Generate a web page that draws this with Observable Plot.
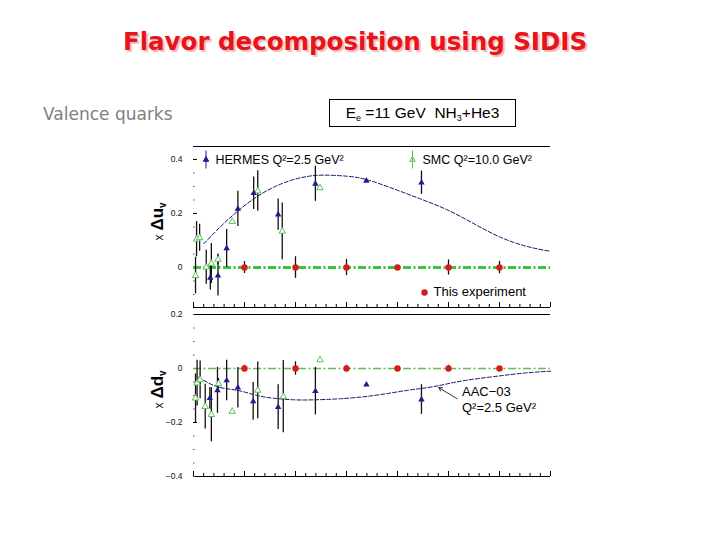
<!DOCTYPE html>
<html><head><meta charset="utf-8">
<script src="https://cdn.jsdelivr.net/npm/d3@7"></script>
<script src="https://cdn.jsdelivr.net/npm/@observablehq/plot@0.6"></script>
<style>
body{margin:0;background:#fff;width:720px;height:540px;position:relative;overflow:hidden;font-family:"Liberation Sans",Arial,sans-serif}
#title{position:absolute;left:0;width:710px;top:27px;line-height:30px;text-align:center;font-weight:bold;font-size:24.5px;font-family:"DejaVu Sans",sans-serif;color:#e8141c;text-shadow:2px 2px 1px rgba(235,140,140,0.6)}
#sub{position:absolute;left:43px;top:104px;line-height:20px;font-size:17px;font-family:"DejaVu Sans",sans-serif;color:#808080}
#box{position:absolute;left:329px;top:99px;width:185px;height:26px;border:1px solid #000;font-size:15.5px;text-align:center;line-height:26px;color:#000}
#box sub{font-size:9px;vertical-align:-3px;line-height:0}
.panel{position:absolute;left:0}
</style></head><body>
<div id="title">Flavor decomposition using SIDIS</div>
<div id="sub">Valence quarks</div>
<div id="box">E<sub>e</sub> =11 GeV&nbsp; NH<sub>3</sub>+He3</div>
<div id="top" class="panel" style="top:136px"></div>
<div id="bot" class="panel" style="top:310px"></div>
<script>
// ---------- x Δu_v panel ----------
const hermesUx = [0.033, 0.048, 0.065, 0.087, 0.118, 0.166, 0.239, 0.339, 0.447];
const hermesUy = [-0.038, -0.03, 0.071, 0.217, 0.275, 0.196, 0.31, 0.321, 0.314];
const hermesUe = [0.045, 0.075, 0.07, 0.065, 0.06, 0.058, 0.065, 0.005, 0.043];

const smcUx = [0.004, 0.006, 0.012, 0.025, 0.035, 0.048, 0.076, 0.126, 0.174, 0.248];
const smcUy = [-0.03, 0.105, 0.11, 0.001, 0.015, 0.03, 0.17, 0.283, 0.134, 0.295];
const smcUe = [0.068, 0.065, 0.05, 0.063, 0.074, 0.02, 0.008, 0.075, 0.105, 0.008];

const oursX = [0.1, 0.2, 0.3, 0.4, 0.5, 0.6];
const oursUy = [0, 0, 0, 0, 0, 0];
const oursUe = [0.022, 0.04, 0.03, 0.005, 0.028, 0.023];

const aacUx = [0.020,0.059,0.092,0.125,0.157,0.190,0.223,0.256,0.301,0.340,0.393,0.445,0.497,0.550,0.602,0.654,0.700];
const aacUy = [0.088,0.162,0.217,0.263,0.297,0.322,0.337,0.342,0.338,0.325,0.291,0.254,0.214,0.162,0.112,0.078,0.060];

// ---------- x Δd_v panel ----------
const hermesDx = [0.032, 0.047, 0.065, 0.087, 0.117, 0.166, 0.239, 0.339, 0.447];
const hermesDy = [-0.11, -0.081, -0.044, -0.071, -0.122, -0.143, -0.084, -0.06, -0.115];
const hermesDe = [0.04, 0.085, 0.075, 0.075, 0.07, 0.083, 0.088, 0.005, 0.055];

const smcDx = [0.004, 0.007, 0.013, 0.023, 0.035, 0.049, 0.076, 0.126, 0.176, 0.248];
const smcDy = [-0.11, -0.054, -0.042, -0.141, -0.171, -0.057, -0.159, -0.081, -0.104, 0.032];
const smcDe = [0.09, 0.085, 0.07, 0.083, 0.1, 0.02, 0.008, 0.105, 0.134, 0.008];

const oursDy = [0, 0, 0, 0, 0, 0];
const oursDe = [0.012, 0.025, 0.012, 0.005, 0.012, 0.005];

const aacDx = [0.010,0.046,0.086,0.125,0.157,0.197,0.236,0.288,0.354,0.419,0.471,0.524,0.589,0.648,0.700];
const aacDy = [-0.032,-0.067,-0.081,-0.100,-0.110,-0.116,-0.116,-0.112,-0.100,-0.081,-0.067,-0.047,-0.030,-0.017,-0.010];

// ---------- axes ----------
const xDomain = [0, 0.7];
const xTickValues = d3.range(0, 36).map(i => +(i * 0.02).toFixed(2));
const uDomain = [-0.148, 0.448];
const dDomain = [-0.4, 0.2];
const uTickLabels = [0, 0.2, 0.4];
const dTickLabels = [-0.4, -0.2, 0, 0.2];
const uMinor = d3.range(-2, 9).map(i => +(i * 0.05).toFixed(2));
const dMinor = d3.range(-8, 5).map(i => +(i * 0.05).toFixed(2));

// annotation texts
const hermesLabel = "HERMES Q²=2.5 GeV²";
const smcLabel = "SMC Q²=10.0 GeV²";
const oursLabel = "This experiment";
const aacLabel1 = "AAC−03";
const aacLabel2 = "Q²=2.5 GeV²";
const aacArrow = [{x1: 0.517, y1: -0.112, x2: 0.481, y2: -0.071}];

const rows = (xs, ys, es) => xs.map((x, i) => ({x, y: ys[i], e: es ? es[i] : 0}));

const C = {hermes: "#1e1e8e", smc: "#5cbf5c", ours: "#d41c1c", aac: "#161668", bar: "#111"};
const fmt = d => d === 0 ? "0" : d.toFixed(1).replace("-", "−");

// legend symbol: triangle with an error bar
const barTriangle = {
  draw(ctx, size) {
    const r = Math.sqrt(size / Math.PI);
    const s = r * 1.25;
    ctx.moveTo(0, -s); ctx.lineTo(s * 0.9, s * 0.6); ctx.lineTo(-s * 0.9, s * 0.6); ctx.closePath();
    ctx.moveTo(0, -9); ctx.lineTo(0, 9);
  }
};

function panel({domain, frameH, mTop, mBottom, hermes, smc, ours, curve, zeroW, zeroColor, ticks, minor, extras}) {
  const [y0, y1] = domain;
  const ky = frameH / (y1 - y0);
  const kx = (550 - 193) / (xDomain[1] - xDomain[0]);
  const xt = xTickValues.map(x => ({x, major: Math.abs(x * 10 - Math.round(x * 10)) < 1e-6}));
  const errOpts = {x: "x", y1: d => d.y - d.e, y2: d => d.y + d.e, stroke: C.bar, strokeWidth: 1.3};
  return Plot.plot({
    width: 720, height: mTop + frameH + mBottom,
    marginLeft: 193, marginRight: 170, marginTop: mTop, marginBottom: mBottom,
    x: {domain: xDomain, axis: null},
    y: {domain, label: null},
    style: {fontFamily: "Liberation Sans, Arial, sans-serif", background: "transparent", overflow: "visible", color: "#111"},
    marks: [
      Plot.ruleY(domain, {stroke: "#000", strokeWidth: 1}),
      Plot.ruleX(xt, {x: "x", y1: y0, y2: d => y0 + (d.major ? 5 : 3) / ky, stroke: "#000"}),
      Plot.ruleY(minor, {y: d => d, x1: 0, x2: 1.5 / kx, stroke: "#555"}),
      Plot.ruleY(ticks.filter(t => t > y0 && t < y1), {y: d => d, x1: 0, x2: 4 / kx, stroke: "#000"}),
      Plot.axisY({ticks, tickSize: 0, tickPadding: 11, fontSize: 8.5, tickFormat: fmt, label: null}),
      Plot.ruleY([0], {stroke: zeroColor, strokeWidth: zeroW, strokeDasharray: "8,2.5,2,2.5"}),
      Plot.line(curve, {x: "x", y: "y", curve: "natural", stroke: C.aac, strokeWidth: 1, strokeDasharray: "4,2"}),
      Plot.ruleX(hermes, errOpts),
      Plot.ruleX(smc, errOpts),
      Plot.ruleX(ours, errOpts),
      Plot.dot(smc, {x: "x", y: "y", symbol: "triangle", r: 2.4, stroke: C.smc, fill: "white", strokeWidth: 1}),
      Plot.dot(hermes, {x: "x", y: "y", symbol: "triangle", r: 2.4, fill: C.hermes}),
      Plot.dot(ours, {x: "x", y: "y", r: 3.2, fill: C.ours}),
      ...extras
    ]
  });
}

const topPlot = panel({
  domain: uDomain, frameH: 161, mTop: 10, mBottom: 4,
  hermes: rows(hermesUx, hermesUy, hermesUe),
  smc: rows(smcUx, smcUy, smcUe),
  ours: rows(oursX, oursUy, oursUe),
  curve: rows(aacUx, aacUy),
  zeroW: 3, zeroColor: "#3cc43c",
  ticks: uTickLabels, minor: uMinor,
  extras: [
    Plot.dot([0], {frameAnchor: "top-left", dx: 12.5, dy: 13, symbol: barTriangle, r: 2.4, fill: C.hermes, stroke: C.hermes, strokeWidth: 1}),
    Plot.text([hermesLabel], {text: d => d, frameAnchor: "top-left", dx: 22, dy: 13, textAnchor: "start", lineAnchor: "middle", fontSize: 12.5, fill: "#000"}),
    Plot.dot([0], {frameAnchor: "top-left", dx: 219, dy: 13, symbol: barTriangle, r: 2.4, fill: "white", stroke: C.smc, strokeWidth: 1}),
    Plot.text([smcLabel], {text: d => d, frameAnchor: "top-left", dx: 229, dy: 13, textAnchor: "start", lineAnchor: "middle", fontSize: 12.5, fill: "#000"}),
    Plot.dot([0], {frameAnchor: "top-left", dx: 231, dy: 146, r: 3.2, fill: C.ours}),
    Plot.text([oursLabel], {text: d => d, frameAnchor: "top-left", dx: 240, dy: 145, textAnchor: "start", lineAnchor: "middle", fontSize: 13, fill: "#000"}),
    Plot.text(["YLAB_U"], {text: d => d, frameAnchor: "left", dx: -36, dy: -5.5, rotate: -90, textAnchor: "middle", lineAnchor: "middle", fontSize: 17, fontWeight: "bold", fill: "#000"})
  ]
});

const botPlot = panel({
  domain: dDomain, frameH: 162, mTop: 4, mBottom: 8,
  hermes: rows(hermesDx, hermesDy, hermesDe),
  smc: rows(smcDx, smcDy, smcDe),
  ours: rows(oursX, oursDy, oursDe),
  curve: rows(aacDx, aacDy),
  zeroW: 1.5, zeroColor: "#66bb55",
  ticks: dTickLabels, minor: dMinor,
  extras: [
    Plot.arrow(aacArrow, {x1: "x1", y1: "y1", x2: "x2", y2: "y2", stroke: "#000", strokeWidth: 0.8, headLength: 7}),
    Plot.text([aacLabel1], {text: d => d, frameAnchor: "top-left", dx: 268.5, dy: 77, textAnchor: "start", lineAnchor: "middle", fontSize: 13, fill: "#000"}),
    Plot.text([aacLabel2], {text: d => d, frameAnchor: "top-left", dx: 268.5, dy: 93, textAnchor: "start", lineAnchor: "middle", fontSize: 13, fill: "#000"}),
    Plot.text(["YLAB_D"], {text: d => d, frameAnchor: "left", dx: -36, dy: -6, rotate: -90, textAnchor: "middle", lineAnchor: "middle", fontSize: 17, fontWeight: "bold", fill: "#000"})
  ]
});

document.getElementById("top").append(topPlot);
document.getElementById("bot").append(botPlot);

function richLabel(svg, key, letter) {
  d3.select(svg).selectAll("text").filter(function() { return this.textContent === key; })
    .html(`<tspan font-size="12" font-weight="normal">x</tspan><tspan dx="4">Δ${letter}</tspan><tspan font-size="10" dy="3">v</tspan>`);
}
richLabel(topPlot, "YLAB_U", "u");
richLabel(botPlot, "YLAB_D", "d");
</script>
</body></html>
